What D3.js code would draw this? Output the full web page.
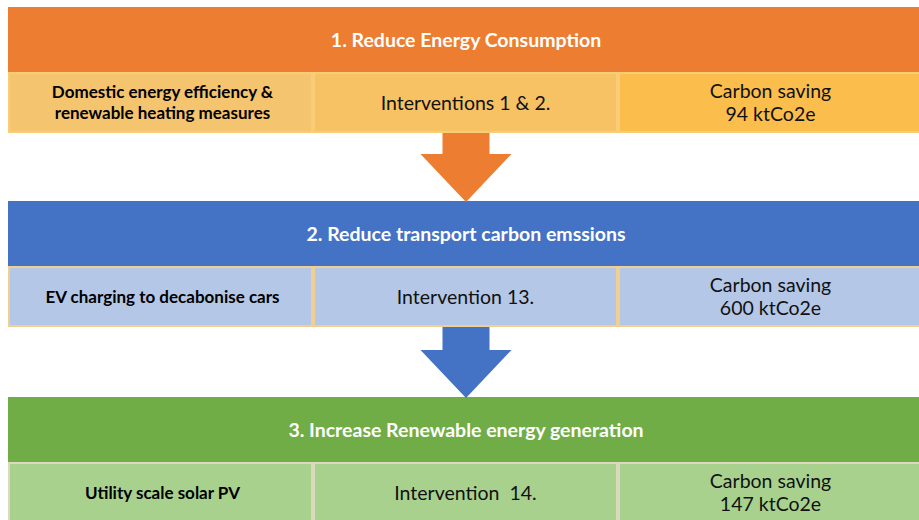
<!DOCTYPE html>
<html lang="en">
<head>
    <meta charset="UTF-8">
    <title>Carbon reduction steps</title>
    <script src="https://d3js.org/d3.v7.min.js"></script>
    <style>
        body { margin: 0; background: #fff; font-family: Lato, "Open Sans", sans-serif; }
        svg { display: block; }
        .title { fill: #fff; font-weight: bold; font-size: 19.5px; text-anchor: middle; }
        .desc { fill: #000; font-weight: bold; font-size: 17px; text-anchor: middle; }
        .cell-text { fill: #111; font-size: 19.5px; text-anchor: middle; white-space: pre; }
    </style>
</head>
<body>
    <svg id="chart"></svg>
    <script>
        // step content
        const titles = ["1. Reduce Energy Consumption", "2. Reduce transport carbon emssions", "3. Increase Renewable energy generation"];
        const descriptions = [["Domestic energy efficiency &", "renewable heating measures"], ["EV charging to decabonise cars"], ["Utility scale solar PV"]];
        const interventions = ["Interventions 1 & 2.", "Intervention 13.", "Intervention  14."];
        const savings = ["94 ktCo2e", "600 ktCo2e", "147 ktCo2e"];

        // colours per step
        const headerColors = ["#ED7D31", "#4472C4", "#70AD47"];
        const cellColors = [["#F5C46F", "#F7C263", "#FBBD4B"], ["#B4C7E7", "#B4C7E7", "#B4C7E7"], ["#A9D18E", "#A9D18E", "#A9D18E"]];
        const borderColors = ["#F9CD78", "#F0CF93", "#DCD8BC"];

        const width = 919, height = 520;
        const svg = d3.select("#chart").attr("width", width).attr("height", height);

        const left = 8, right = 923;
        const blockTops = [7, 201, 397];
        const headerH = 65, rowH = 61;

        const x = d3.scaleBand().domain([0, 1, 2]).range([left, right]);

        const blocks = svg.selectAll(".block")
            .data(titles)
            .enter().append("g")
            .attr("class", "block")
            .attr("transform", (d, i) => `translate(0,${blockTops[i]})`);

        blocks.append("rect")
            .attr("x", left).attr("y", 0)
            .attr("width", right - left).attr("height", headerH)
            .attr("fill", (d, i) => headerColors[i]);

        blocks.append("text")
            .attr("class", "title")
            .attr("x", 466).attr("y", headerH / 2 + 7)
            .text(d => d);

        // cells row
        blocks.each(function(d, i) {
            const g = d3.select(this);
            g.selectAll(".cell")
                .data([0, 1, 2])
                .enter().append("rect")
                .attr("x", c => x(c) + 1)
                .attr("y", headerH + 1)
                .attr("width", x.bandwidth() - 2)
                .attr("height", rowH - 2)
                .attr("fill", c => cellColors[i][c])
                .attr("stroke", borderColors[i])
                .attr("stroke-width", 2);

            const cy = headerH + rowH / 2;
            const desc = descriptions[i];
            const dt = g.append("text").attr("class", "desc");
            desc.forEach((line, k) => {
                dt.append("tspan")
                    .attr("x", x(0) + x.bandwidth() / 2 + 2)
                    .attr("y", cy + 6 + (k - (desc.length - 1) / 2) * 21)
                    .text(line);
            });

            g.append("text").attr("class", "cell-text")
                .attr("x", x(1) + x.bandwidth() / 2)
                .attr("y", cy + 7)
                .text(interventions[i]);

            const st = g.append("text").attr("class", "cell-text");
            ["Carbon saving", savings[i]].forEach((line, k) => {
                st.append("tspan")
                    .attr("x", x(2) + x.bandwidth() / 2)
                    .attr("y", cy + 7 + (k - 0.5) * 23)
                    .text(line);
            });
        });

        // arrows between blocks
        const arrowX = 466, shaftW = 47, headW = 91, headH = 48;
        [0, 1].forEach(i => {
            const top = blockTops[i] + headerH + rowH;
            const tip = blockTops[i + 1] + 1;
            const neck = tip - headH;
            const pts = [
                [arrowX - shaftW / 2, top], [arrowX + shaftW / 2, top],
                [arrowX + shaftW / 2, neck], [arrowX + headW / 2, neck],
                [arrowX, tip], [arrowX - headW / 2, neck],
                [arrowX - shaftW / 2, neck]
            ];
            svg.append("path")
                .attr("d", d3.line()(pts) + "Z")
                .attr("fill", headerColors[i]);
        });
    </script>
</body>
</html>
